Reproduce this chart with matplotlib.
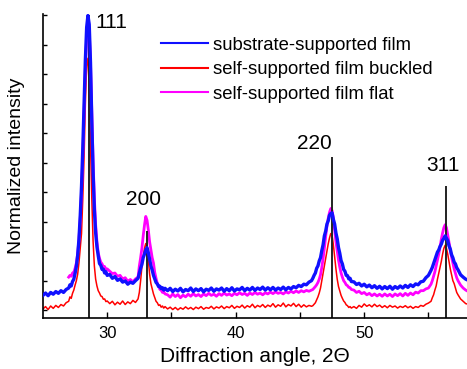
import numpy as np
import matplotlib
matplotlib.use('Agg')
import matplotlib.pyplot as plt

plt.rcParams['font.family'] = ['Liberation Sans', 'DejaVu Sans']

# diffraction angle (2 theta), degrees
angle = [25.0, 25.2, 25.4, 25.6, 25.8, 26.0, 26.2, 26.4, 26.6, 26.8,
         27.0, 27.1, 27.2, 27.3, 27.4, 27.5, 27.6, 27.7, 27.8, 27.9,
         28.0, 28.1, 28.2, 28.3, 28.4, 28.5, 28.6, 28.7, 28.8, 28.9,
         29.0, 29.1, 29.2, 29.3, 29.4, 29.5, 29.6, 29.7, 29.8, 29.9, 30.0,
         30.2, 30.4, 30.6, 30.8, 31.0, 31.2, 31.4, 31.6, 31.8, 32.0, 32.2, 32.4,
         32.5, 32.6, 32.7, 32.8, 32.9, 33.0, 33.1, 33.2, 33.3, 33.4,
         33.5, 33.6, 33.7, 33.8, 33.9, 34.0, 34.1, 34.2, 34.3, 34.4, 34.5,
         34.7, 34.9, 35.1, 35.3, 35.5, 35.7, 35.9, 36.1, 36.3, 36.5,
         36.7, 36.9, 37.1, 37.3, 37.5, 37.7, 37.9, 38.1, 38.3, 38.5,
         38.7, 38.9, 39.1, 39.3, 39.5, 39.7, 39.9, 40.1, 40.3, 40.5,
         40.7, 40.9, 41.1, 41.3, 41.5, 41.7, 41.9, 42.1, 42.3, 42.5,
         42.7, 42.9, 43.1, 43.3, 43.5, 43.7, 43.9, 44.1, 44.3, 44.5,
         44.7, 44.9, 45.1, 45.3, 45.5, 45.7, 45.9,
         46.0, 46.1, 46.2, 46.3, 46.4, 46.5, 46.6, 46.7, 46.8, 46.9,
         47.0, 47.1, 47.2, 47.3, 47.4, 47.5, 47.6, 47.7, 47.8, 47.9,
         48.0, 48.1, 48.2, 48.3, 48.4, 48.5, 48.6, 48.7, 48.8, 48.9, 49.0,
         49.2, 49.4, 49.6, 49.8, 50.0, 50.2, 50.4, 50.6, 50.8, 51.0,
         51.2, 51.4, 51.6, 51.8, 52.0, 52.2, 52.4, 52.6, 52.8, 53.0,
         53.2, 53.4, 53.6, 53.8, 54.0, 54.2, 54.4, 54.6, 54.8, 55.0, 55.2,
         55.3, 55.4, 55.5, 55.6, 55.7, 55.8, 55.9, 56.0, 56.1, 56.2,
         56.3, 56.4, 56.5, 56.6, 56.7, 56.8, 56.9, 57.0, 57.1, 57.2, 57.3,
         57.5, 57.7, 57.9, 58.1]

substrate = [0.050, 0.058, 0.049, 0.060, 0.054, 0.063, 0.057, 0.066, 0.060, 0.070,
             0.075, 0.086, 0.082, 0.097, 0.105, 0.125, 0.148, 0.185, 0.240, 0.320,
             0.420, 0.550, 0.700, 0.850, 0.960, 1.000, 0.970, 0.840, 0.640, 0.470,
             0.340, 0.262, 0.215, 0.185, 0.158, 0.152, 0.138, 0.139, 0.126, 0.130, 0.118,
             0.121, 0.108, 0.114, 0.101, 0.106, 0.095, 0.099, 0.088, 0.095, 0.091, 0.100, 0.108,
             0.125, 0.142, 0.155, 0.178, 0.190, 0.205, 0.212, 0.195, 0.172, 0.150,
             0.136, 0.118, 0.106, 0.094, 0.089, 0.080, 0.081, 0.073, 0.076, 0.068, 0.074,
             0.066, 0.074, 0.063, 0.071, 0.065, 0.074, 0.062, 0.070, 0.066, 0.075,
             0.063, 0.072, 0.066, 0.073, 0.062, 0.071, 0.067, 0.075, 0.064, 0.072,
             0.068, 0.075, 0.064, 0.073, 0.066, 0.076, 0.065, 0.072, 0.069, 0.077,
             0.066, 0.074, 0.068, 0.077, 0.067, 0.075, 0.070, 0.078, 0.068, 0.076,
             0.069, 0.077, 0.068, 0.075, 0.070, 0.078, 0.069, 0.077, 0.072, 0.080,
             0.076, 0.084, 0.080, 0.088, 0.086, 0.095, 0.100,
             0.108, 0.118, 0.126, 0.142, 0.150, 0.167, 0.178, 0.202, 0.222, 0.252,
             0.268, 0.292, 0.303, 0.322, 0.328, 0.330, 0.308, 0.292, 0.262, 0.242,
             0.212, 0.193, 0.168, 0.157, 0.138, 0.132, 0.118, 0.117, 0.106, 0.108, 0.097,
             0.096, 0.087, 0.091, 0.082, 0.088, 0.079, 0.085, 0.076, 0.083, 0.074,
             0.081, 0.072, 0.080, 0.073, 0.081, 0.071, 0.080, 0.074, 0.082, 0.075,
             0.084, 0.077, 0.086, 0.080, 0.089, 0.086, 0.096, 0.098, 0.110, 0.118, 0.135,
             0.145, 0.158, 0.172, 0.183, 0.197, 0.204, 0.216, 0.224, 0.237, 0.243,
             0.252, 0.244, 0.236, 0.218, 0.207, 0.188, 0.178, 0.163, 0.157, 0.144, 0.137,
             0.120, 0.112, 0.105, 0.101]

buckled = [0.004, 0.012, 0.002, 0.014, 0.006, 0.016, 0.009, 0.019, 0.014, 0.025,
           0.030, 0.045, 0.040, 0.057, 0.068, 0.085, 0.100, 0.122, 0.160, 0.210,
           0.260, 0.380, 0.520, 0.700, 0.830, 0.855, 0.760, 0.560, 0.380, 0.235,
           0.150, 0.105, 0.082, 0.066, 0.058, 0.048, 0.046, 0.037, 0.038, 0.029, 0.031,
           0.022, 0.030, 0.018, 0.027, 0.020, 0.031, 0.019, 0.028, 0.022, 0.033, 0.026, 0.038,
           0.060, 0.100, 0.147, 0.180, 0.210, 0.226, 0.208, 0.170, 0.122, 0.090,
           0.072, 0.055, 0.043, 0.030, 0.025, 0.016, 0.018, 0.010, 0.014, 0.007, 0.012,
           0.004, 0.010, 0.002, 0.009, 0.001, 0.008, 0.003, 0.011, 0.004, 0.009,
           0.002, 0.010, 0.005, 0.012, 0.003, 0.009, 0.006, 0.013, 0.004, 0.011,
           0.007, 0.014, 0.005, 0.012, 0.008, 0.016, 0.006, 0.013, 0.009, 0.017,
           0.007, 0.015, 0.010, 0.020, 0.008, 0.016, 0.011, 0.019, 0.009, 0.017,
           0.012, 0.022, 0.010, 0.018, 0.013, 0.024, 0.011, 0.019, 0.014, 0.023,
           0.012, 0.020, 0.010, 0.018, 0.011, 0.016, 0.013,
           0.015, 0.020, 0.025, 0.035, 0.045, 0.058, 0.075, 0.100, 0.125, 0.150,
           0.175, 0.200, 0.225, 0.245, 0.260, 0.255, 0.222, 0.180, 0.140, 0.105,
           0.080, 0.065, 0.050, 0.040, 0.031, 0.026, 0.018, 0.015, 0.009, 0.012, 0.007,
           0.012, 0.006, 0.016, 0.010, 0.021, 0.013, 0.018, 0.011, 0.020, 0.012,
           0.017, 0.009, 0.015, 0.008, 0.016, 0.010, 0.014, 0.007, 0.013, 0.009,
           0.015, 0.008, 0.013, 0.006, 0.012, 0.009, 0.016, 0.013, 0.020, 0.024, 0.030,
           0.042, 0.052, 0.068, 0.082, 0.105, 0.125, 0.145, 0.165, 0.190, 0.210,
           0.220, 0.210, 0.190, 0.165, 0.140, 0.120, 0.100, 0.090, 0.075, 0.060, 0.052,
           0.038, 0.030, 0.022, 0.020]

nan = np.nan
flat = [nan, nan, nan, nan, nan, nan, nan, nan, nan, nan,
        0.112, 0.118, 0.115, 0.126, 0.128, 0.142, 0.160, 0.192, 0.240, 0.310,
        0.400, 0.520, 0.670, 0.820, 0.930, 0.975, 0.950, 0.840, 0.670, 0.510,
        0.380, 0.290, 0.232, 0.195, 0.176, 0.163, 0.157, 0.146, 0.148, 0.137, 0.140,
        0.132, 0.124, 0.126, 0.115, 0.118, 0.106, 0.110, 0.098, 0.104, 0.096, 0.106, 0.112,
        0.150, 0.178, 0.210, 0.252, 0.288, 0.318, 0.305, 0.272, 0.232, 0.205,
        0.178, 0.160, 0.128, 0.108, 0.090, 0.082, 0.070, 0.068, 0.060, 0.062, 0.055,
        0.052, 0.044, 0.055, 0.046, 0.053, 0.042, 0.051, 0.045, 0.054, 0.047,
        0.056, 0.048, 0.053, 0.046, 0.055, 0.049, 0.057, 0.050, 0.054, 0.047,
        0.056, 0.050, 0.058, 0.051, 0.055, 0.049, 0.057, 0.052, 0.059, 0.053,
        0.057, 0.050, 0.058, 0.053, 0.060, 0.054, 0.058, 0.052, 0.059, 0.055,
        0.061, 0.056, 0.062, 0.057, 0.060, 0.055, 0.062, 0.058, 0.064, 0.059,
        0.065, 0.060, 0.066, 0.062, 0.067, 0.064, 0.068,
        0.070, 0.075, 0.080, 0.086, 0.094, 0.105, 0.120, 0.145, 0.175, 0.210,
        0.250, 0.285, 0.312, 0.332, 0.345, 0.338, 0.312, 0.272, 0.232, 0.200,
        0.170, 0.146, 0.126, 0.112, 0.100, 0.094, 0.086, 0.083, 0.077, 0.076, 0.070,
        0.068, 0.060, 0.064, 0.056, 0.060, 0.052, 0.057, 0.049, 0.055, 0.048,
        0.054, 0.047, 0.055, 0.048, 0.054, 0.046, 0.055, 0.049, 0.056, 0.048,
        0.057, 0.050, 0.058, 0.052, 0.061, 0.058, 0.066, 0.066, 0.072, 0.075, 0.088,
        0.100, 0.115, 0.130, 0.150, 0.170, 0.190, 0.215, 0.240, 0.262, 0.280,
        0.290, 0.280, 0.255, 0.230, 0.205, 0.180, 0.160, 0.140, 0.125, 0.110, 0.100,
        0.085, 0.075, 0.068, 0.063]

# reflections: position, height of marker line, label and label position
refl_pos = [28.55, 33.08, 47.48, 56.34]
refl_top = [1.0, 0.27, 0.52, 0.42]
refl_name = ['111', '200', '220', '311']
refl_text_x = [30.35, 32.85, 46.1, 56.1]
refl_text_y = [0.975, 0.375, 0.566, 0.49]

fig = plt.figure(figsize=(4.67, 3.69), dpi=100)
ax = fig.add_axes([0.092, 0.138, 0.908, 0.824])

ax.vlines(refl_pos, -0.03, refl_top, colors='#222222', lw=1.4, zorder=2.5)
ax.plot(angle, substrate, color='#1010ff', lw=2.4, zorder=3,
        label='substrate-supported film')
ax.plot(angle, buckled, color='#ff0000', lw=1.1, zorder=1.5,
        label='self-supported film buckled')
ax.plot(angle, flat, color='#ff00ff', lw=2.0, zorder=2,
        label='self-supported film flat')

for x, y, s in zip(refl_text_x, refl_text_y, refl_name):
    ax.text(x, y, s, fontsize=15, ha='center', va='center')

ax.set_xlim(25, 58)
ax.set_ylim(-0.027, 1.005)
ax.set_xticks([30, 40, 50])
ax.set_xticks([35, 45, 55], minor=True)
ax.set_yticks(np.linspace(0, 1, 11))
ax.set_yticklabels([])
ax.tick_params(direction='in', length=4, width=1, labelsize=12, pad=6)
ax.tick_params(which='minor', direction='in', length=4, width=1)
ax.tick_params(axis='y', length=3)
ax.spines['top'].set_visible(False)
ax.spines['right'].set_visible(False)
ax.spines['left'].set_linewidth(1.2)
ax.spines['bottom'].set_linewidth(1.2)

ax.set_xlabel('Diffraction angle, 2\u0398', fontsize=15, labelpad=4)
ax.set_ylabel('Normalized intensity', fontsize=14, labelpad=7)

leg = ax.legend(loc='upper left', bbox_to_anchor=(0.278, 0.925), frameon=False,
                fontsize=13.3, handlelength=2.55, handletextpad=0.25,
                labelspacing=0.4, borderpad=0, borderaxespad=0)
for h in leg.get_lines():
    h.set_linewidth(1.5)

fig.savefig('out.png', dpi=100)
